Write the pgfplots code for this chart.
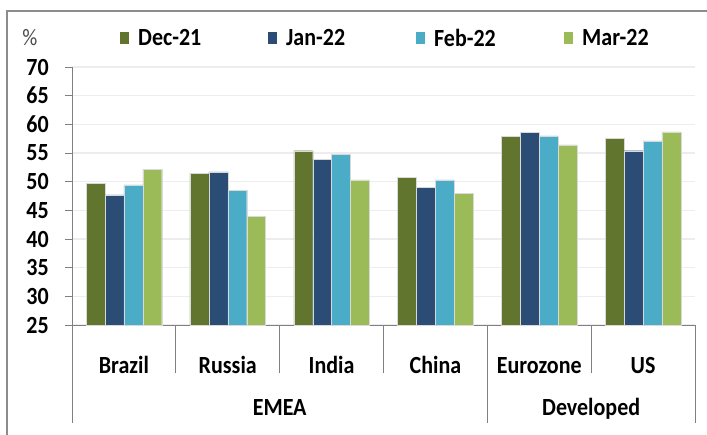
\documentclass[border=0pt]{standalone}
\usepackage{pgfplots}
\pgfplotsset{compat=1.18}
\usepackage{fontspec}
\setmainfont{Carlito}
\definecolor{cDec}{HTML}{62752F}
\definecolor{cJan}{HTML}{2B4D75}
\definecolor{cFeb}{HTML}{4AACC6}
\definecolor{cMar}{HTML}{9BBB59}
\newcommand\lf{\fontsize{22}{24}\selectfont\bfseries}
\newcommand\sx[1]{\scalebox{1}[1.12]{#1}}
\begin{document}
\begin{tikzpicture}
\path[use as bounding box] (0pt,0pt) rectangle (707pt,-434pt);
\draw[black!45, line width=1.5pt] (710pt,-11pt) -- (7pt,-11pt) -- (7pt,-440pt);
\node[font=\fontsize{21}{22}\selectfont, text=black!70] at (30pt,-38pt) {\sx{\%}};
\begin{axis}[
  at={(72pt,-325pt)}, anchor=south west,
  scale only axis, width=623pt, height=258pt,
  ymin=25, ymax=70, ytick={25,30,...,70},
  xmin=-0.5, xmax=5.5, xtick={0,...,5},
  xticklabels={\sx{Brazil},\sx{Russia},\sx{India},\sx{China},\sx{Eurozone},\sx{US}},
  /pgf/number format/assume math mode=true,
  yticklabel={\sx{\pgfmathprintnumber{\tick}}},
  ybar=0pt, bar width=18.9pt,
  axis x line*=bottom, axis y line*=left,
  axis line style={black!50, line width=0.9pt},
  x axis line style={-}, y axis line style={-},
  ymajorgrids, grid style={black!7, line width=1.5pt},
  tick align=outside, major tick length=7pt,
  ytick style={black!50, line width=0.9pt},
  xtick style={draw=none},
  ticklabel style={font=\lf},
  yticklabel style={anchor=east, inner sep=0pt, xshift=-16pt},
  xticklabel style={anchor=base, yshift=-41pt},
  clip=false,
  legend columns=4,
  legend style={draw=none, fill=none, at={(axis description cs:0.0762,1.1105)}, anchor=west, inner sep=0pt,
    font=\lf, nodes={inner sep=0pt},
    /tikz/every odd column/.append style={column sep=9.5pt}},
  legend image code/.code={\fill[#1,draw=none] (0pt,-6pt) rectangle (9pt,6pt);},
]
\addplot[fill=cDec, draw=white!85!black, line width=0.3pt] coordinates {(0,49.7) (1,51.5) (2,55.4) (3,50.8) (4,57.9) (5,57.55)};
\addplot[fill=cJan, draw=white!85!black, line width=0.3pt] coordinates {(0,47.7) (1,51.7) (2,53.9) (3,49.05) (4,58.65) (5,55.4)};
\addplot[fill=cFeb, draw=white!85!black, line width=0.3pt] coordinates {(0,49.45) (1,48.5) (2,54.75) (3,50.3) (4,58.0) (5,57.1)};
\addplot[fill=cMar, draw=white!85!black, line width=0.3pt] coordinates {(0,52.2) (1,44.0) (2,50.3) (3,48.0) (4,56.4) (5,58.7)};
\legend{\makebox[129.5pt][l]{\sx{Dec-21}},\makebox[129.5pt][l]{\sx{Jan-22}},\makebox[129.5pt][l]{\sx{Feb-22}},\makebox[70pt][l]{\sx{Mar-22}}}
\pgfplotsinvokeforeach{0.5,1.5,2.5,4.5}{
  \draw[black!50, line width=0.9pt] (axis cs:#1,25) -- ++(0pt,-48pt);
}
\pgfplotsinvokeforeach{-0.5,3.5,5.5}{
  \draw[black!50, line width=0.9pt] (axis cs:#1,25) -- ++(0pt,-98pt);
}
\node[font=\lf, anchor=base] at (axis cs:1.5,25) [yshift=-90pt] {\sx{EMEA}};
\node[font=\lf, anchor=base] at (axis cs:4.5,25) [yshift=-90pt] {\sx{Developed}};
\end{axis}
\end{tikzpicture}
\end{document}
